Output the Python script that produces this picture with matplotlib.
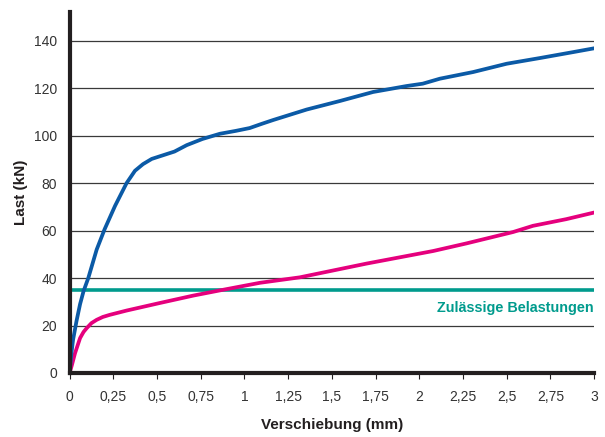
import matplotlib
matplotlib.use("Agg")
import matplotlib.pyplot as plt

plt.rcParams['font.family'] = ['Liberation Sans', 'DejaVu Sans']

# Kurvenwerte
blau_x = [0, 0.01, 0.02, 0.04, 0.06, 0.08, 0.107, 0.155, 0.2, 0.26, 0.326, 0.374,
          0.42, 0.47, 0.6, 0.67, 0.76, 0.86, 0.95, 1.03, 1.1, 1.165, 1.356, 1.546,
          1.736, 1.927, 2.02, 2.118, 2.308, 2.5, 2.69, 2.88, 3.0]
blau_y = [0, 8, 14, 22, 29, 34.5, 40, 52, 60.5, 70.4, 80, 85.2,
          88, 90.2, 93.3, 96, 98.6, 100.8, 102, 103.2, 105, 106.6, 111, 114.6,
          118.4, 120.9, 121.9, 124, 126.8, 130.3, 132.7, 135.2, 136.8]

pink_x = [0, 0.012, 0.031, 0.06, 0.08, 0.098, 0.125, 0.155, 0.19, 0.23, 0.326,
          0.517, 0.707, 0.86, 1.089, 1.317, 1.699, 2.08, 2.27, 2.537, 2.65,
          2.84, 3.0]
pink_y = [0, 3, 8.3, 14.7, 17.3, 18.9, 21, 22.4, 23.6, 24.5, 26.3,
          29.5, 32.6, 34.8, 38, 40.3, 46.1, 51.4, 54.6, 59.4, 62,
          64.8, 67.6]

zulaessig = 35

x_ticks = [0, 0.25, 0.5, 0.75, 1, 1.25, 1.5, 1.75, 2, 2.25, 2.5, 2.75, 3]
x_labels = ["0", "0,25", "0,5", "0,75", "1", "1,25", "1,5", "1,75", "2",
            "2,25", "2,5", "2,75", "3"]
y_ticks = [0, 20, 40, 60, 80, 100, 120, 140]

BLAU = "#0b5aa6"
PINK = "#e5007d"
TEAL = "#009b8d"
DUNKEL = "#231f20"

fig = plt.figure(figsize=(6.05, 4.37), dpi=100)
ax = fig.add_axes([0.115, 0.1465, 0.867, 0.8255])

for yv in y_ticks[1:]:
    ax.axhline(yv, color="#3a3a3a", linewidth=0.9, zorder=1)

ax.axhline(zulaessig, color=TEAL, linewidth=2.6, zorder=2)
ax.plot(pink_x, pink_y, color=PINK, linewidth=2.7, solid_joinstyle='round', zorder=3)
ax.plot(blau_x, blau_y, color=BLAU, linewidth=2.7, solid_joinstyle='round', zorder=4)

ax.text(3, 27.5, "Zulässige Belastungen", color=TEAL, fontsize=10.4,
        fontweight='bold', ha='right', va='center')

ax.set_xlim(0, 3)
ax.set_ylim(0, 152)
ax.set_xticks(x_ticks)
ax.set_xticklabels(x_labels)
ax.set_yticks(y_ticks)

ax.tick_params(axis='x', direction='out', length=4, width=0.8, color=DUNKEL,
               labelsize=10, labelcolor="#333333", pad=8)
ax.tick_params(axis='y', length=0, labelsize=10, labelcolor="#333333", pad=9)

ax.spines[['top', 'right']].set_visible(False)
for s in ['left', 'bottom']:
    ax.spines[s].set_linewidth(3)
    ax.spines[s].set_color(DUNKEL)
    ax.spines[s].set_zorder(5)

ax.set_xlabel("Verschiebung (mm)", fontsize=11, fontweight='bold',
              color=DUNKEL, labelpad=10)
ax.set_ylabel("Last (kN)", fontsize=11, fontweight='bold',
              color=DUNKEL, labelpad=4)

plt.savefig("out.png", dpi=100)
plt.close()
